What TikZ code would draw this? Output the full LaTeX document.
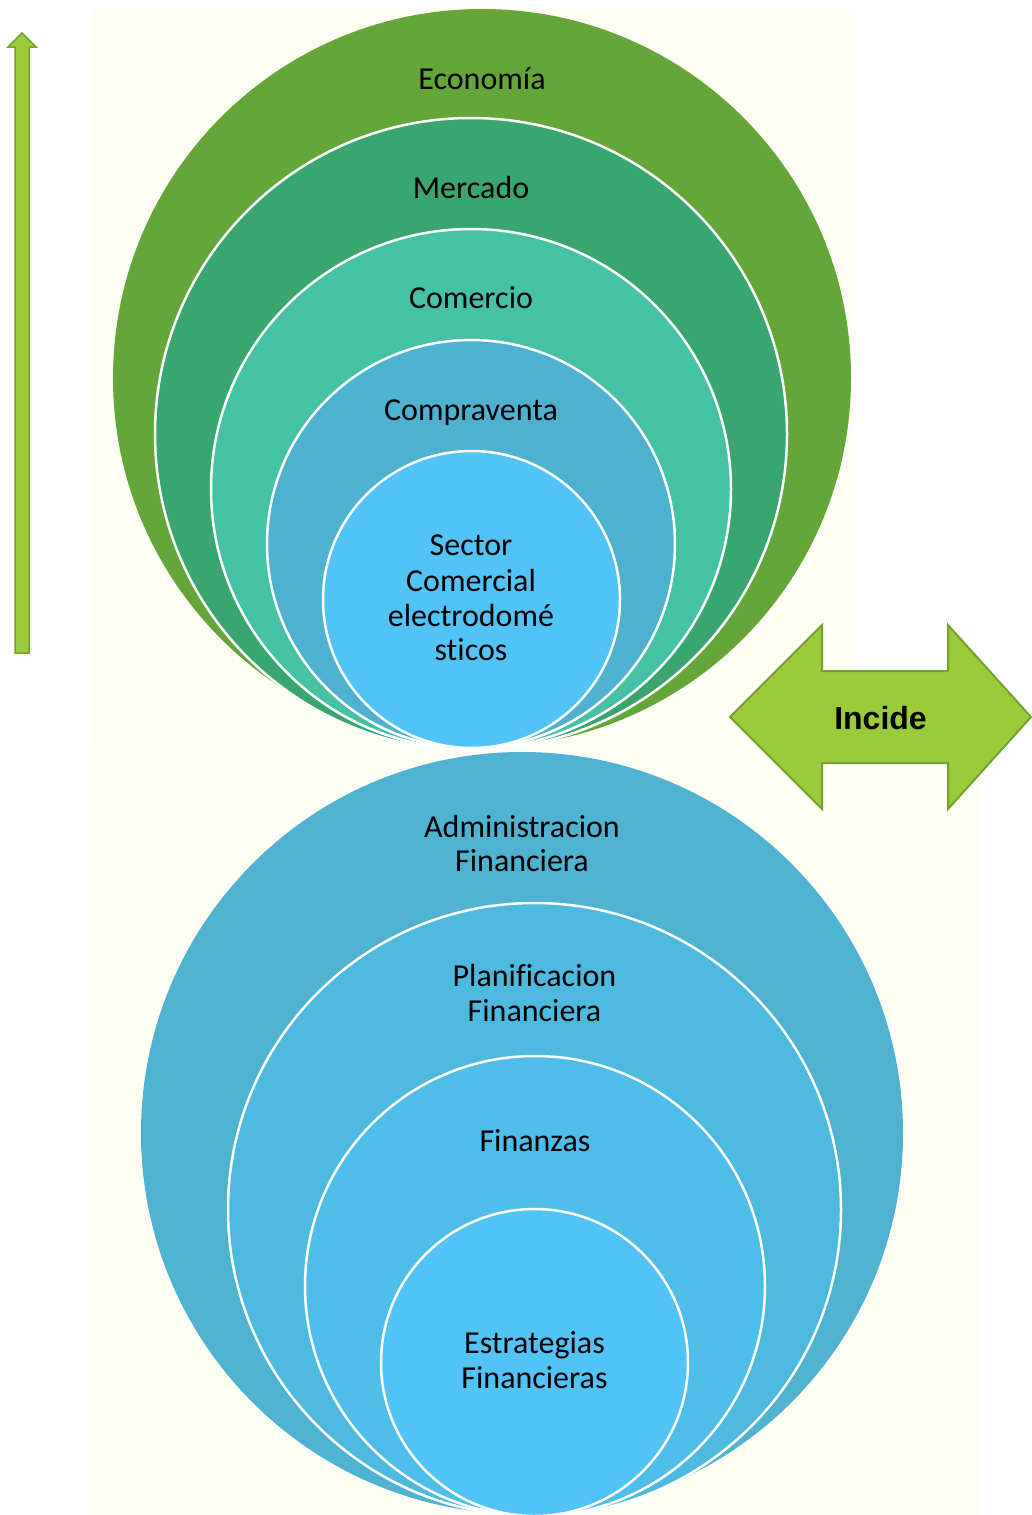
\documentclass[tikz,border=0pt]{standalone}
\usepackage{fontspec}
\setmainfont{Carlito}[Ligatures=NoCommon]
\newfontfamily\arialbold{Liberation Sans}[BoldFont={Liberation Sans Bold}]
\definecolor{cream}{HTML}{FEFEF5}
\definecolor{ceco}{HTML}{65A639}
\definecolor{cmer}{HTML}{38A66E}
\definecolor{ccom}{HTML}{45C1A4}
\definecolor{ccv}{HTML}{4DB1CF}
\definecolor{csec}{HTML}{52C3F7}
\definecolor{cadm}{HTML}{4EB2D0}
\definecolor{cpla}{HTML}{4DB9DF}
\definecolor{cfin}{HTML}{4FBDE9}
\definecolor{cest}{HTML}{52C3F7}
\definecolor{arfill}{HTML}{9ACB3B}
\definecolor{arline}{HTML}{74A02C}
\begin{document}
\begin{tikzpicture}[x=1pt,y=-1pt,
  ring/.style={circle, inner sep=0pt, outer sep=0pt, draw=white, line width=2.5pt},
  lbl/.style={anchor=base, inner sep=0pt, font=\fontsize{32}{35}\selectfont, text=black},
  arrowshape/.style={fill=arfill, draw=arline, line width=2pt, line join=miter}]
\useasboundingbox (0,0) rectangle (1031,1515);
% backgrounds
\fill[cream] (90,7) rectangle (855,745);
\fill[cream] (89,745) rectangle (979,1515);
% left vertical arrow
\draw[arrowshape, line width=1.5pt] (15,653) -- (15,47) -- (8,47) -- (22,33) -- (36,47) -- (29,47) -- (29,653) -- cycle;
% top group
\node[ring, fill=ceco, draw=none, minimum size=738pt] (eco) at (482,378) {};
\node[ring, fill=cmer, minimum size=632pt] (mer) at (471,434) {};
\node[ring, fill=ccom, minimum size=520pt] (com) at (471,489) {};
\node[ring, fill=ccv,  minimum size=408pt] (cv)  at (471,544) {};
\node[ring, fill=csec, minimum size=297pt] (sec) at (471.5,599.5) {};
% bottom group
\node[ring, fill=cadm, draw=none, minimum size=762pt] (adm) at (522,1133) {};
\node[ring, fill=cpla, minimum size=613pt] (pla) at (534.5,1209.5) {};
\node[ring, fill=cfin, minimum size=460pt] (fin) at (535,1286) {};
\node[ring, fill=cest, minimum size=307pt] (est) at (534.5,1362.5) {};
% double arrow
\draw[arrowshape] (730,717) -- (822,625) -- (822,671) -- (948,671) -- (948,625) -- (1031,717) -- (948,809) -- (948,763) -- (822,763) -- (822,809) -- cycle;
\node[anchor=base, inner sep=0pt, font=\arialbold\bfseries\fontsize{32}{35}\selectfont] (incide) at (880.5,729) {Incide};
% labels
\node[lbl] (teco) at (482,89) {Economía};
\node[lbl] (tmer) at (471,198) {Mercado};
\node[lbl] (tcom) at (471,308) {Comercio};
\node[lbl] (tcv) at (471,420) {Compraventa};
\node[lbl] (tsec1) at (471,555) {Sector};
\node[lbl] (tsec2) at (471,591) {Comercial};
\node[lbl] (tsec3) at (471,626) {electrodomé};
\node[lbl] (tsec4) at (471,660) {sticos};
\node[lbl] (tadm1) at (522,837) {Administracion};
\node[lbl] (tadm2) at (522,871) {Financiera};
\node[lbl] (tpla1) at (534.5,986) {Planificacion};
\node[lbl] (tpla2) at (534.5,1021) {Financiera};
\node[lbl] (tfin) at (535,1151) {Finanzas};
\node[lbl] (test1) at (534.5,1353) {Estrategias};
\node[lbl] (test2) at (534.5,1388) {Financieras};
\end{tikzpicture}
\end{document}
